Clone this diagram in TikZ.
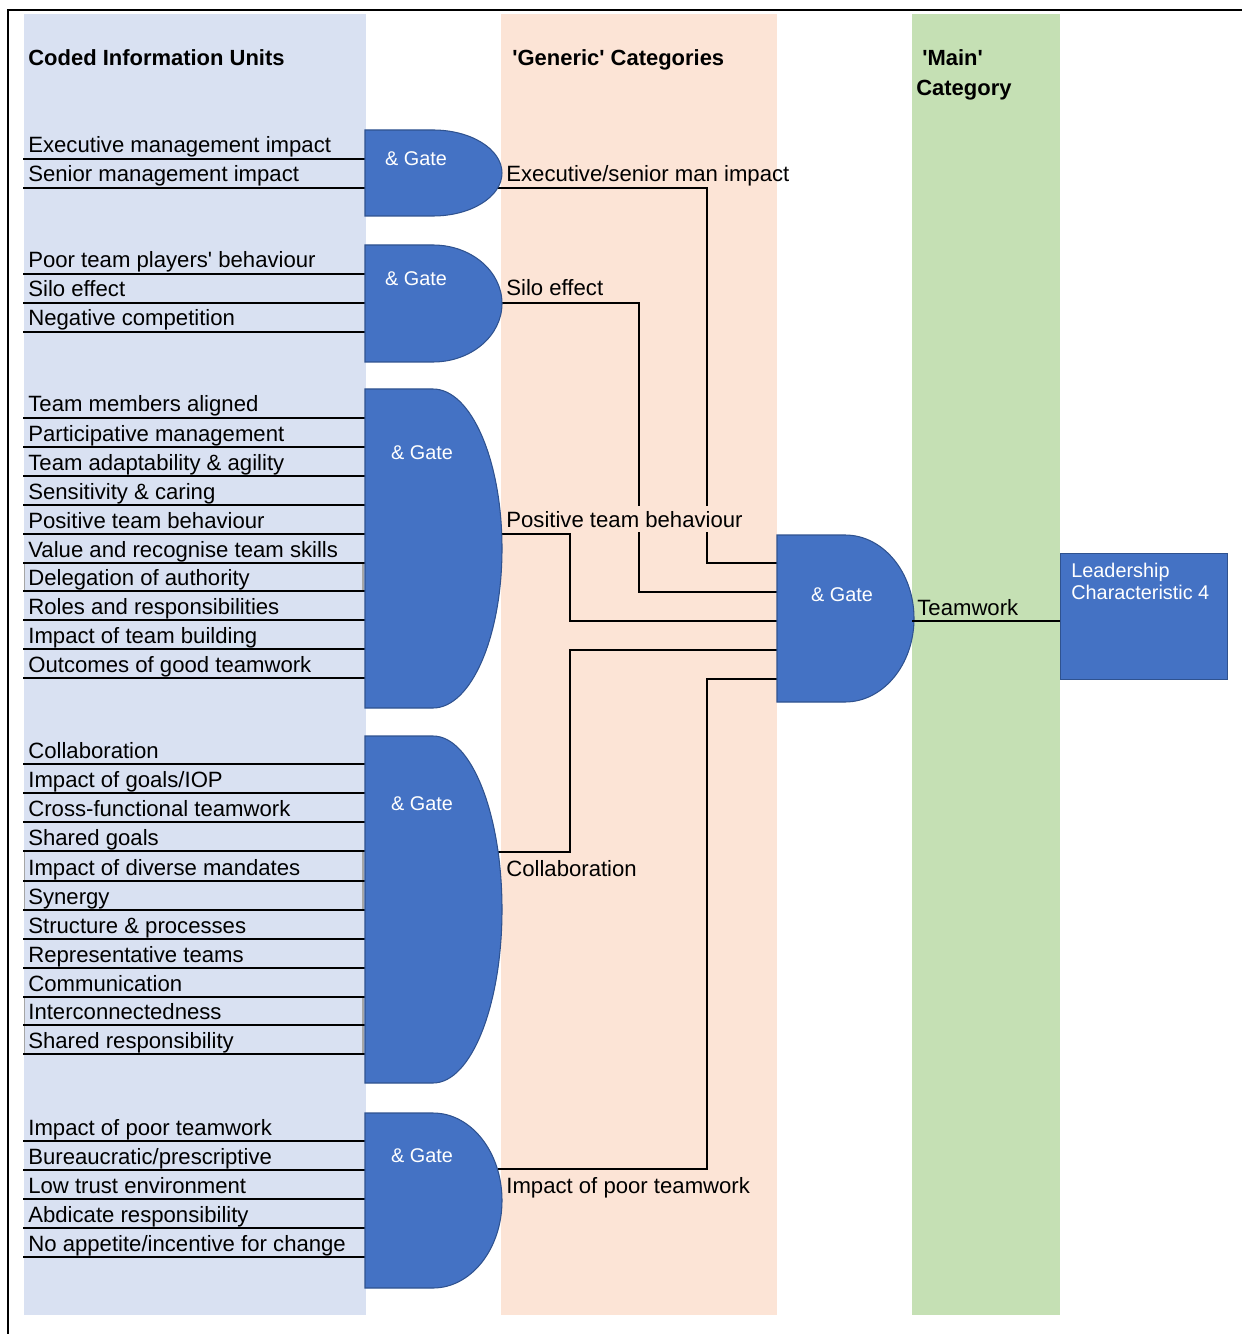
\documentclass[tikz,border=0pt]{standalone}
\usepackage{fontspec}
\setmainfont{Liberation Sans}
\usetikzlibrary{calc}

\definecolor{unitbg}{HTML}{D9E1F2}
\definecolor{genbg}{HTML}{FCE4D6}
\definecolor{mainbg}{HTML}{C5E0B4}
\definecolor{gateblue}{HTML}{4472C4}
\definecolor{gateedge}{HTML}{2F528F}
\definecolor{cellgray}{HTML}{A6A6A6}

\tikzset{
  txt/.style={font=\fontsize{12.6pt}{15pt}\selectfont, inner sep=0pt, anchor=base west},
  head/.style={txt, font=\fontsize{12.5pt}{15pt}\selectfont\bfseries},
  gatelabel/.style={font=\fontsize{11.3pt}{13pt}\selectfont, text=white, inner sep=0pt},
  rowline/.style={line width=1.2pt},
  conn/.style={line width=1.2pt},
  gateshape/.style={fill=gateblue, draw=gateedge, line width=0.6pt},
  cellside/.style={draw=cellgray, line width=0.7pt},
  lcbox/.style={fill=gateblue, draw=gateedge, line width=0.6pt, inner sep=0pt,
    minimum width=3.34cm, minimum height=2.52cm, anchor=north west},
}

% AND gate: flat left half, elliptic right half
% #1 label name, #2 left x, #3 top y, #4 bottom y, #5 label centre
\newcommand{\andgate}[5]{%
  \path[gateshape] (#2,#3) -- ({#2+68},#3)
    .. controls ({#2+68+0.5523*69},#3) and ({#2+137},{(#3+#4)/2-0.5523*(#4-#3)/2})
    .. ({#2+137},{(#3+#4)/2})
    .. controls ({#2+137},{(#3+#4)/2+0.5523*(#4-#3)/2}) and ({#2+68+0.5523*69},#4)
    .. ({#2+68},#4) -- (#2,#4) -- cycle;
  \node[gatelabel] (#1) at (#5) {\& Gate};
}

% coded unit: text with its rule underneath
% #1 name, #2 rule y, #3 text
\newcommand{\codedunit}[3]{%
  \draw[rowline] (23,#2) -- (366,#2);
  \node[txt] (#1) at (28,{#2-6}) {#3};
}
% grey cell borders on a row whose rule is at #1
\newcommand{\cellsides}[1]{%
  \draw[cellside] (24.5,{#1-29}) -- (24.5,#1) (363,{#1-29}) -- (363,#1);
}

\begin{document}
\begin{tikzpicture}[x=0.02cm, y=-0.02cm]
\useasboundingbox (0,0) rectangle (1241,1334);

% column backgrounds
\fill[unitbg] (24,14) rectangle (366,1315);
\fill[genbg] (501,14) rectangle (777,1315);
\fill[mainbg] (912,14) rectangle (1060,1315);

% frame
\draw[line width=1.4pt] (8,1340) -- (8,10) -- (1250,10);

% headers
\node[head] (h1) at (28,66) {Coded Information Units};
\node[head] (h2) at (512,66) {\textquotesingle Generic\textquotesingle{} Categories};
\node[head] (h3) at (922,66) {\textquotesingle Main\textquotesingle};
\node[head] (h4) at (916,96) {Category};

% coded information units
\cellsides{591}
\cellsides{881}
\cellsides{910}
\cellsides{1025}
\cellsides{1054}

\codedunit{u1}{159}{Executive management impact}
\codedunit{u2}{188}{Senior management impact}

\codedunit{u3}{274}{Poor team players\textquotesingle{} behaviour}
\codedunit{u4}{303}{Silo effect}
\codedunit{u5}{332}{Negative competition}

\codedunit{u6}{418}{Team members aligned}
\codedunit{u7}{447}{Participative management}
\codedunit{u8}{476}{Team adaptability \& agility}
\codedunit{u9}{505}{Sensitivity \& caring}
\codedunit{u10}{534}{Positive team behaviour}
\codedunit{u11}{563}{Value and recognise team skills}
\codedunit{u12}{591}{Delegation of authority}
\codedunit{u13}{620}{Roles and responsibilities}
\codedunit{u14}{649}{Impact of team building}
\codedunit{u15}{678}{Outcomes of good teamwork}

\codedunit{u16}{764}{Collaboration}
\codedunit{u17}{793}{Impact of goals/IOP}
\codedunit{u18}{822}{Cross-functional teamwork}
\codedunit{u19}{851}{Shared goals}
\codedunit{u20}{881}{Impact of diverse mandates}
\codedunit{u21}{910}{Synergy}
\codedunit{u22}{939}{Structure \& processes}
\codedunit{u23}{968}{Representative teams}
\codedunit{u24}{997}{Communication}
\codedunit{u25}{1025}{Interconnectedness}
\codedunit{u26}{1054}{Shared responsibility}

\codedunit{u27}{1141}{Impact of poor teamwork}
\codedunit{u28}{1170}{Bureaucratic/prescriptive}
\codedunit{u29}{1199}{Low trust environment}
\codedunit{u30}{1228}{Abdicate responsibility}
\codedunit{u31}{1257}{No appetite/incentive for change}

% connection points
\coordinate (g1-out) at (498,188);
\coordinate (g2-out) at (498,303);
\coordinate (g3-out) at (498,534);
\coordinate (g4-out) at (498,852);
\coordinate (g5-out) at (498,1169);
\coordinate (g6-in1) at (779,563);
\coordinate (g6-in2) at (779,592);
\coordinate (g6-in3) at (779,621);
\coordinate (g6-in4) at (779,650);
\coordinate (g6-in5) at (779,679);
\coordinate (g6-out) at (912,621);

% generic categories feeding the main gate
\draw[conn] (g1-out) -| ($(g6-in1)+(-72,0)$) -- (g6-in1);
\draw[conn] (g2-out) -| ($(g6-in2)+(-140,0)$) -- (g6-in2);
\draw[conn] (g5-out) -| ($(g6-in5)+(-72,0)$) -- (g6-in5);
\draw[conn] (g4-out) -| ($(g6-in4)+(-209,0)$) -- (g6-in4);

% label with its own backing, breaking the risers behind it
\node[txt, fill=genbg, inner ysep=3pt] (l3) at (506,527) {Positive team behaviour};
\draw[conn] (g3-out) -| ($(g6-in3)+(-209,0)$) -- (g6-in3);

% gates
\andgate{g1}{365}{130}{216}{416,159}
\andgate{g2}{365}{245}{362}{416,279}
\andgate{g3}{365}{389}{708}{422,453}
\andgate{g4}{365}{736}{1083}{422,804}
\andgate{g5}{365}{1113}{1288}{422,1156}
\andgate{g6}{777}{535}{702}{842,595}

% generic category labels
\node[txt] (l1) at (506,182) {Executive/senior man impact};
\node[txt] (l2) at (506,296) {Silo effect};
\node[txt] (l4) at (506,876) {Collaboration};
\node[txt] (l5) at (506,1193) {Impact of poor teamwork};

% main category and leadership characteristic
\node[lcbox] (lc) at (1060,553) {};
\node[anchor=base west, align=left, inner sep=0pt, text=white,
      font=\fontsize{11.3pt}{12.5pt}\selectfont] (lc-text) at (1071,599)
      {Leadership\\Characteristic 4};
\draw[line width=1pt] (g6-out) -- (g6-out -| lc.west);
\node[txt] (l6) at (917,615) {Teamwork};

\end{tikzpicture}
\end{document}
